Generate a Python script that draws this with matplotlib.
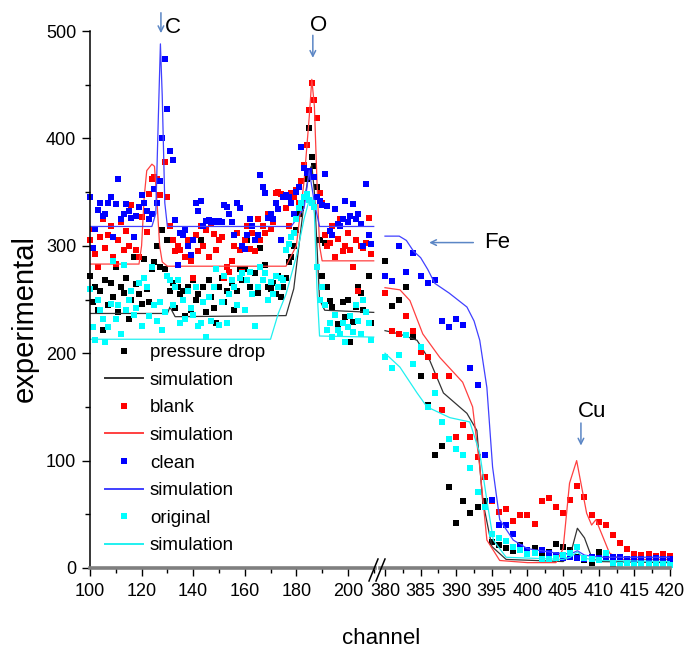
import numpy as np
import matplotlib
matplotlib.use("Agg")
import matplotlib.pyplot as plt
from matplotlib import font_manager as fm
from matplotlib.lines import Line2D

# ---------------- data ----------------
# left segment (channel 100..209), one value per channel
clean_left = [345, 298, 316, 333, 340, 328, 330, 340, 345, 308,
              339, 362, 325, 330, 339, 332, 326, 308, 328, 336,
              347, 340, 332, 325, 330, 353, 340, 360, 400, 474,
              427, 388, 380, 324, 282, 312, 310, 315, 300, 291,
              305, 340, 332, 342, 318, 323, 324, 322, 323, 322,
              323, 322, 338, 336, 330, 322, 310, 340, 335, 300,
              297, 310, 325, 318, 305, 310, 366, 355, 349, 326,
              330, 325, 340, 334, 305, 345, 347, 345, 340, 330,
              350, 355, 392, 372, 368, 370, 364, 364, 345, 342,
              338, 367, 337, 314, 310, 334, 320, 318, 325, 342,
              322, 328, 339, 325, 330, 320, 300, 358, 310, 302]
blank_left = [305, 316, 292, 280, 308, 325, 298, 310, 318, 290,
              283, 305, 322, 296, 314, 300, 338, 308, 296, 290,
              327, 340, 313, 348, 362, 364, 362, 347, 400, 378,
              345, 318, 305, 295, 300, 296, 312, 290, 305, 286,
              270, 310, 295, 318, 300, 315, 290, 320, 311, 296,
              305, 308, 270, 280, 276, 286, 300, 312, 296, 276,
              305, 318, 297, 312, 295, 325, 305, 318, 312, 330,
              316, 322, 349, 350, 348, 346, 335, 318, 349, 345,
              352, 340, 360, 375, 394, 426, 452, 436, 419, 349,
              340, 310, 300, 303, 318, 290, 306, 325, 295, 300,
              312, 296, 280, 305, 258, 300, 298, 303, 326, 292]
pdrop_left = [272, 248, 262, 240, 258, 222, 268, 245, 265, 252,
              280, 238, 262, 256, 270, 232, 250, 290, 264, 255,
              246, 288, 260, 248, 278, 285, 300, 280, 315, 278,
              305, 258, 265, 242, 262, 255, 258, 235, 262, 240,
              268, 250, 255, 305, 262, 238, 268, 252, 242, 228,
              262, 270, 248, 258, 276, 265, 240, 258, 278, 268,
              278, 305, 262, 255, 275, 256, 298, 268, 282, 262,
              260, 265, 255, 272, 252, 262, 270, 285, 290, 300,
              315, 330, 335, 345, 362, 410, 383, 374, 355, 305,
              272, 303, 262, 249, 243, 236, 227, 218, 248, 234,
              250, 210, 229, 243, 262, 256, 240, 238, 272, 228]
orig_left = [260, 224, 212, 250, 240, 232, 210, 224, 246, 286,
             232, 245, 218, 282, 240, 250, 258, 236, 242, 265,
             225, 270, 262, 235, 280, 245, 230, 248, 222, 238,
             272, 268, 245, 262, 268, 228, 250, 232, 258, 242,
             236, 262, 225, 228, 248, 215, 252, 230, 262, 278,
             226, 248, 272, 228, 255, 268, 262, 245, 270, 275,
             240, 268, 276, 255, 225, 262, 280, 268, 275, 250,
             266, 255, 272, 262, 270, 268, 296, 302, 308, 312,
             325, 335, 340, 345, 348, 343, 340, 336, 280, 250,
             262, 245, 222, 228, 215, 236, 222, 218, 228, 210,
             224, 235, 220, 245, 230, 218, 250, 238, 228, 212]

# right segment (channel 380..420)
clean_right = [272, 267, 300, 276, 293, 272, 265, 268, 230, 224,
               232, 226, 186, 170, 105, 63, 40, 40, 32, 20,
               17, 14, 17, 14, 12, 9, 10, 9, 8, 10,
               9, 10, 10, 10, 8, 8, 8, 8, 9, 8, 8]
blank_right = [256, 221, 218, 235, 221, 201, 196, 179, 147, 179,
               122, 133, 122, 103, 85, 62, 52, 55, 44, 49,
               49, 41, 62, 65, 57, 51, 63, 76, 66, 49,
               43, 40, 31, 23, 18, 13, 12, 13, 11, 13, 11]
pdrop_right = [286, 244, 250, 262, 215, 179, 152, 105, 114, 75,
               42, 62, 51, 57, 62, 24, 21, 19, 16, 21,
               14, 19, 12, 15, 22, 20, 17, 10, 7, 5,
               15, 8, 3, 4, 5, 3, 4, 3, 4, 3, 3]
orig_right = [196, 186, 198, 217, 190, 206, 150, 163, 136, 120,
              111, 105, 93, 71, 57, 32, 28, 25, 20, 17,
              13, 14, 8, 8, 9, 12, 14, 20, 9, 8,
              7, 14, 5, 3, 5, 3, 4, 3, 4, 3, 3]

# simulations (channel, value)
sim_clean_l_x = [100, 124, 125.5, 126.5, 127.3, 128, 129, 130, 178, 183, 185, 187, 189, 210]
sim_clean_l_y = [318, 318, 330, 420, 488, 440, 340, 318, 318, 335, 370, 340, 318, 318]
sim_blank_l_x = [100, 119, 120, 121, 122, 124, 125, 126, 127, 128, 130, 176, 180, 183, 185, 186, 187, 188, 189, 190, 210]
sim_blank_l_y = [283, 283, 300, 345, 370, 376, 374, 340, 300, 285, 281, 281, 300, 360, 420, 455, 430, 360, 300, 286, 286]
sim_pdrop_l_x = [100, 130, 131, 133, 176, 179, 181, 183, 185, 186, 187, 188, 189, 191, 210]
sim_pdrop_l_y = [237, 237, 243, 234, 235, 260, 300, 340, 370, 375, 350, 300, 250, 240, 238]
sim_orig_l_x = [100, 170, 171.5, 173, 176, 180, 183, 185, 186, 187, 188, 189, 210]
sim_orig_l_y = [213, 213, 225, 237, 255, 290, 325, 343, 345, 330, 260, 216, 215]

sim_clean_r_x = [380, 382, 383, 384, 385, 386, 387, 389, 391.5, 392.5, 393.3, 394.3, 395.1, 396.1, 398, 400, 404, 406, 407, 408, 410, 420]
sim_clean_r_y = [309, 309, 305, 295, 289, 278, 265, 256, 243, 230, 212, 168, 94, 45, 26, 18, 14, 13, 16, 12, 10, 10]
sim_blank_r_x = [380, 382.1, 383.5, 385.3, 387.7, 390.9, 392.3, 393.3, 394.3, 396.1, 400, 404, 405, 405.9, 406.9, 408.3, 409, 409.6, 411.5, 413, 420]
sim_blank_r_y = [261, 259, 249, 218, 196, 173, 150, 94, 26, 7, 5, 5, 18, 79, 100, 51, 40, 45, 14, 8, 8]
sim_pdrop_r_x = [380, 382, 384.5, 386.3, 388.2, 391.5, 392.9, 393.7, 395, 397, 405, 406, 407, 408, 409, 410, 420]
sim_pdrop_r_y = [221, 218, 212, 193, 163, 144, 128, 63, 20, 8, 6, 12, 37, 28, 10, 6, 5]
sim_orig_r_x = [380, 382.1, 384.5, 385.9, 389.1, 391.9, 393.3, 394.3, 395.2, 397, 405, 406, 407, 408, 410, 420]
sim_orig_r_y = [200, 187, 163, 150, 140, 136, 107, 63, 26, 10, 8, 10, 15, 9, 7, 6]

labels = ["pressure drop", "simulation", "blank", "simulation",
          "clean", "simulation", "original", "simulation"]

# ---------------- styling ----------------
W, H = 700, 652
names = {f.name for f in fm.fontManager.ttflist}
if "Liberation Sans Narrow" in names:
    nfam, nsize, lsize = "Liberation Sans Narrow", 15, 15
else:
    nfam, nsize, lsize = "Liberation Sans", 13, 13.5
plt.rcParams["font.family"] = [nfam, "DejaVu Sans"]

pt_col = {"pdrop": "#000000", "blank": "#ff0000", "clean": "#0000ff", "orig": "#00ffff"}
ln_col = {"pdrop": "#333333", "blank": "#ff4040", "clean": "#4040ff", "orig": "#20f0f0"}
arrow_col = "#5b86c5"

fig = plt.figure(figsize=(W / 100, H / 100), dpi=100)

def fx(px):
    return px / W

def fy(py):
    return 1 - py / H

y0, y1 = fy(568), fy(31)
axL = fig.add_axes([fx(90), y0, fx(375) - fx(90), y1 - y0])
axR = fig.add_axes([fx(380), y0, fx(670) - fx(380), y1 - y0])

ms = 5.0
series = [
    ("pdrop", pdrop_left, pdrop_right, (sim_pdrop_l_x, sim_pdrop_l_y), (sim_pdrop_r_x, sim_pdrop_r_y)),
    ("blank", blank_left, blank_right, (sim_blank_l_x, sim_blank_l_y), (sim_blank_r_x, sim_blank_r_y)),
    ("clean", clean_left, clean_right, (sim_clean_l_x, sim_clean_l_y), (sim_clean_r_x, sim_clean_r_y)),
    ("orig", orig_left, orig_right, (sim_orig_l_x, sim_orig_l_y), (sim_orig_r_x, sim_orig_r_y)),
]
handles = []
for key, vl, vr, sl, sr in series:
    xl = np.arange(100, 100 + len(vl))
    xr = np.arange(380, 380 + len(vr))
    axL.plot(xl, vl, "s", color=pt_col[key], ms=ms, mew=0, ls="none", clip_on=False)
    axR.plot(xr, vr, "s", color=pt_col[key], ms=ms, mew=0, ls="none", clip_on=False)
    axL.plot(sl[0], sl[1], "-", color=ln_col[key], lw=0.9)
    axR.plot(sr[0], sr[1], "-", color=ln_col[key], lw=0.9)
    handles.append(Line2D([], [], marker="s", color=pt_col[key], ms=4.9, mew=0, ls="none"))
    handles.append(Line2D([], [], color=ln_col[key], lw=1.4))

for ax in (axL, axR):
    ax.set_ylim(0, 500)
    ax.patch.set_visible(False)
    for s in ("top", "right"):
        ax.spines[s].set_visible(False)
    ax.spines["bottom"].set_color("#7f7f7f")
    ax.spines["bottom"].set_linewidth(2.6)
    ax.tick_params(axis="x", which="major", length=6, width=1, color="black",
                   labelsize=nsize, pad=5)
    ax.tick_params(axis="x", which="minor", length=3.5, width=1, color="black")

axL.set_xlim(100, 210.5)
axL.set_xticks(np.arange(100, 201, 20))
axL.set_xticks(np.arange(110, 211, 20), minor=True)
axL.set_yticks(np.arange(0, 501, 100))
axL.set_yticks(np.arange(50, 500, 100), minor=True)
axL.tick_params(axis="y", which="major", length=6, width=1, labelsize=nsize, pad=4)
axL.tick_params(axis="y", which="minor", length=3.5, width=1)
axL.spines["left"].set_linewidth(1.1)

axR.set_xlim(379.3, 420)
axR.set_xticks(np.arange(380, 421, 5))
axR.set_xticks(np.arange(382.5, 420, 5), minor=True)
axR.spines["left"].set_visible(False)
axR.set_yticks([])

# break marks
for dx in (0, 7):
    fig.add_artist(Line2D([fx(369 + dx), fx(378 + dx)], [fy(581), fy(559)],
                          color="black", lw=1.1))

# legend
axL.legend(handles, labels, loc="upper left", frameon=False,
           bbox_to_anchor=(fx(105), fy(344)), bbox_transform=fig.transFigure,
           fontsize=lsize, handlelength=2.0, handletextpad=0.4,
           labelspacing=0.56, borderpad=0, borderaxespad=0)

# annotations
afs = 16
aprops = dict(arrowstyle="->", color=arrow_col, lw=1.1, shrinkA=0, shrinkB=0)
axL.annotate("", xy=(127.5, 498), xytext=(127.5, 517), arrowprops=aprops,
             annotation_clip=False)
axL.text(132.2, 503, "C", fontsize=afs, ha="center", va="center", clip_on=False)
axL.annotate("", xy=(186.4, 475), xytext=(186.4, 496), arrowprops=aprops,
             annotation_clip=False)
axL.text(188.8, 505, "O", fontsize=afs, ha="center", va="center", clip_on=False)
axR.annotate("", xy=(386.2, 303), xytext=(392.4, 303), arrowprops=aprops,
             annotation_clip=False)
axR.text(395.8, 303, "Fe", fontsize=afs, ha="center", va="center")
axR.annotate("", xy=(407.5, 114), xytext=(407.5, 135), arrowprops=aprops,
             annotation_clip=False)
axR.text(409.0, 146, "Cu", fontsize=afs, ha="center", va="center")

# axis titles
fig.text(fx(25), fy(318), "experimental", rotation=90, ha="center", va="center",
         fontsize=21, family=["Liberation Sans", "DejaVu Sans"])
fig.text(fx(381), fy(638), "channel", ha="center", va="center",
         fontsize=16, family=["Liberation Sans", "DejaVu Sans"])

fig.savefig("out.png", dpi=100)
